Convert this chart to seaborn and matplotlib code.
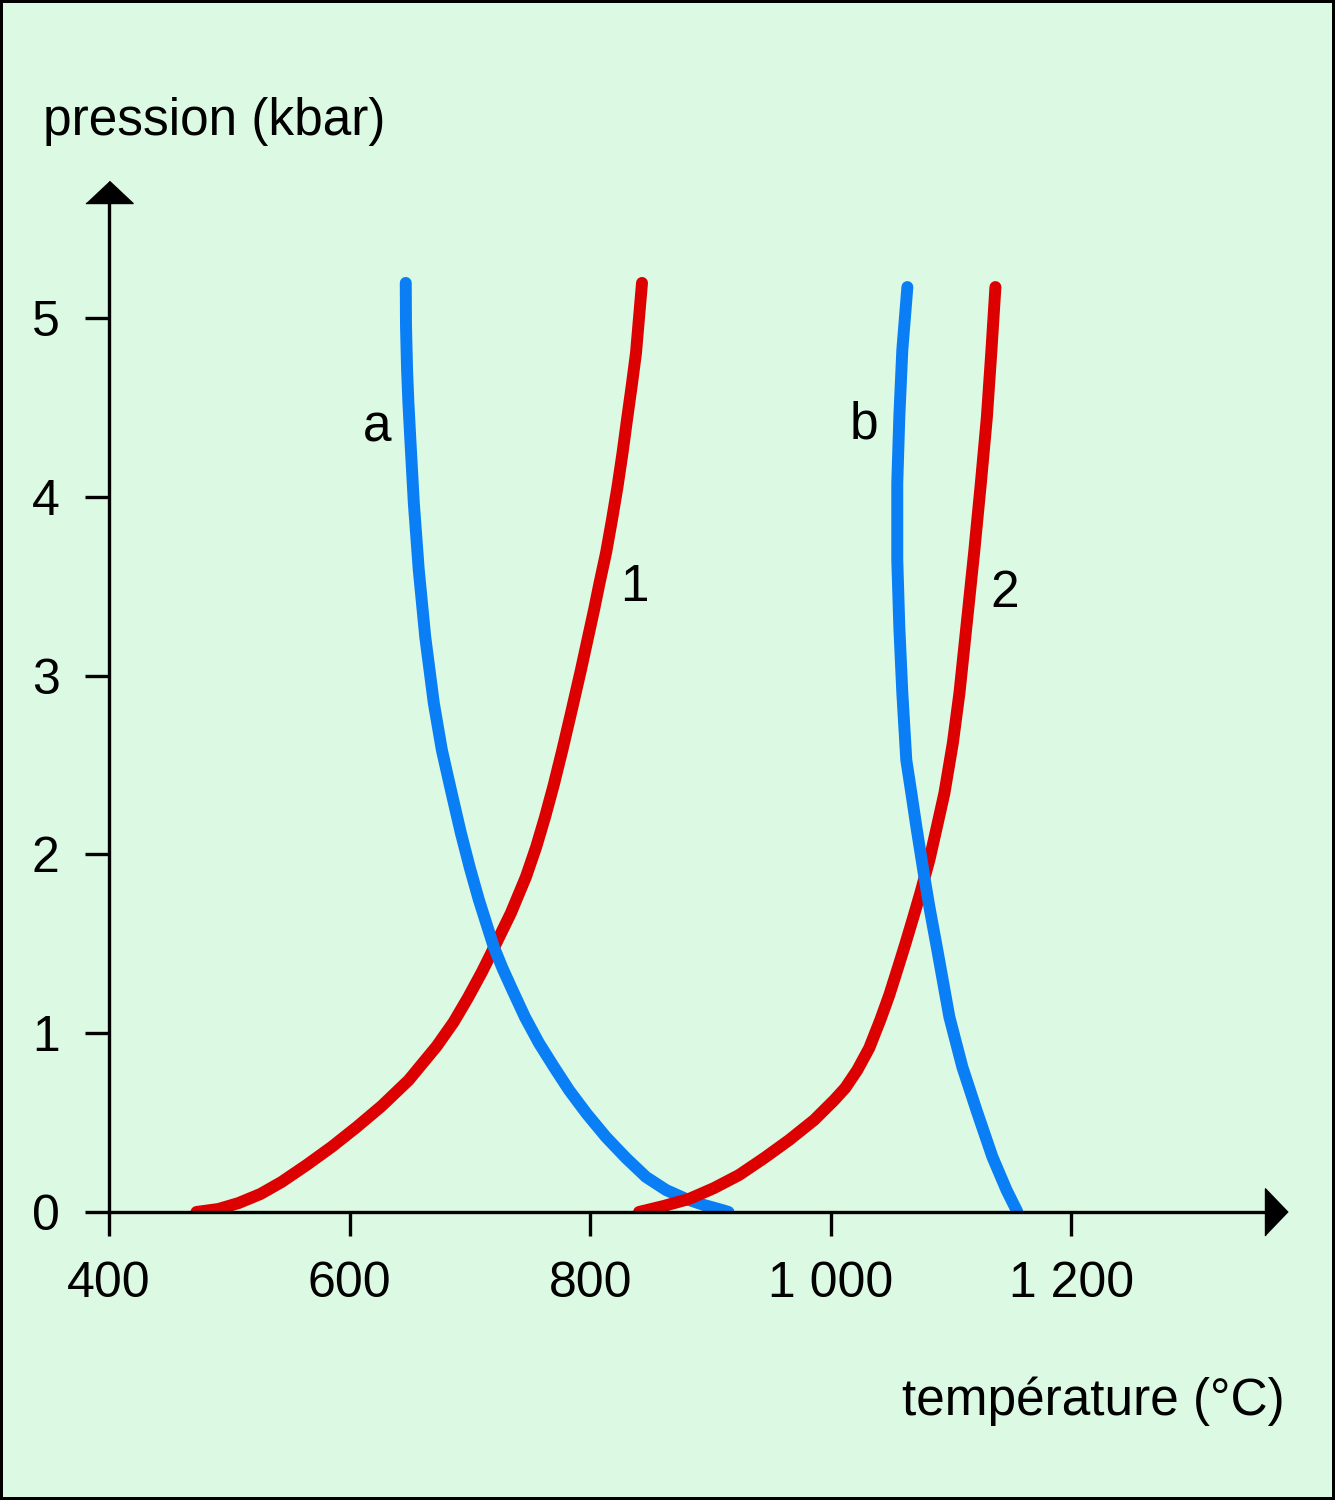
import matplotlib
matplotlib.use("Agg")
import matplotlib.pyplot as plt
import seaborn as sns

# Curve 1 (red) : temperature (°C), pressure (kbar)
t_red1 = [472.7, 491.1, 507.7, 526.0, 543.5, 564.3, 585.1, 605.9, 626.7,
          649.2, 672.5, 686.6, 698.3, 710.0, 719.9, 734.1, 746.6, 755.1,
          762.5, 769.7, 776.9, 784.7, 792.3, 798.3, 803.2, 807.8, 813.2,
          818.1, 822.7, 826.9, 830.6, 834.4, 838.1, 840.6, 843.1]
p_red1 = [0.0, 0.017, 0.050, 0.101, 0.168, 0.263, 0.364, 0.475, 0.593,
          0.738, 0.928, 1.063, 1.197, 1.342, 1.476, 1.672, 1.874, 2.041,
          2.209, 2.388, 2.584, 2.808, 3.031, 3.216, 3.367, 3.518, 3.686,
          3.870, 4.055, 4.245, 4.430, 4.614, 4.804, 5.000, 5.196]

# Curve a (blue)
t_blue_a = [646.7, 646.9, 647.8, 648.9, 650.4, 653.4, 657.5, 662.9, 670.0,
            676.7, 684.6, 692.5, 700.0, 707.5, 719.9, 727.4, 735.3, 745.7,
            757.4, 769.9, 782.4, 797.3, 813.2, 829.8, 846.4, 863.1, 879.7,
            894.7, 909.7, 915.0]
p_blue_a = [5.196, 4.955, 4.709, 4.525, 4.334, 3.965, 3.591, 3.216, 2.847,
            2.584, 2.349, 2.120, 1.924, 1.745, 1.482, 1.359, 1.242, 1.091,
            0.945, 0.811, 0.682, 0.548, 0.419, 0.302, 0.196, 0.123, 0.073,
            0.039, 0.011, 0.0]

# Curve 2 (red)
t_red2 = [840.6, 861.4, 882.2, 903.0, 923.8, 944.7, 965.5, 986.3, 1002.9,
          1012.1, 1022.1, 1032.0, 1041.2, 1048.7, 1055.8, 1062.0, 1068.7,
          1074.5, 1082.0, 1088.2, 1094.5, 1101.5, 1107.0, 1113.6, 1119.4,
          1124.8, 1129.8, 1133.6, 1136.9]
p_red2 = [0.0, 0.034, 0.073, 0.134, 0.207, 0.302, 0.403, 0.515, 0.626,
          0.694, 0.794, 0.917, 1.074, 1.214, 1.365, 1.499, 1.650, 1.784,
          1.969, 2.153, 2.343, 2.623, 2.903, 3.327, 3.702, 4.077, 4.446,
          4.821, 5.173]

# Curve b (blue)
t_blue_b = [1063.7, 1059.5, 1057.0, 1055.3, 1055.3, 1057.0, 1059.5, 1062.8,
            1067.0, 1071.2, 1077.8, 1082.0, 1088.6, 1098.6, 1109.4, 1121.1,
            1134.4, 1146.1, 1155.2]
p_blue_b = [5.173, 4.821, 4.446, 4.077, 3.647, 3.272, 2.903, 2.528, 2.343,
            2.153, 1.874, 1.706, 1.465, 1.091, 0.811, 0.570, 0.308, 0.123,
            0.0]

# curve names and where they are written
curve_names = ["a", "1", "b", "2"]
name_t = [622.6, 836.5, 1027.7, 1145]
name_p = [4.385, 3.49, 4.40, 3.46]

x_ticks = [400, 600, 800, 1000, 1200]
x_ticklabels = ["400", "600", "800", "1 000", "1 200"]
y_ticks = [0, 1, 2, 3, 4, 5]

bg = "#dcf9e3"
red = "#dc0000"
blue = "#0a7ff5"

sns.set_theme(style="ticks")
plt.rcParams["font.family"] = ["Liberation Sans", "DejaVu Sans"]
plt.rcParams["text.color"] = "black"

fig = plt.figure(figsize=(13.35, 15), dpi=100)
fig.patch.set_facecolor(bg)
fig.patch.set_edgecolor("black")
fig.patch.set_linewidth(4)

ax = fig.add_axes([109 / 1335, 288 / 1500, (1265 - 109) / 1335, (1212 - 203) / 1500])
ax.set_facecolor(bg)

lw = 8.6
# drawing order follows the overlaps seen in the figure
sns.lineplot(x=t_red1, y=p_red1, sort=False, estimator=None, color=red,
             linewidth=lw, solid_capstyle="round", ax=ax)
sns.lineplot(x=t_blue_a, y=p_blue_a, sort=False, estimator=None, color=blue,
             linewidth=lw, solid_capstyle="round", ax=ax)
sns.lineplot(x=t_red2, y=p_red2, sort=False, estimator=None, color=red,
             linewidth=lw, solid_capstyle="round", ax=ax)
sns.lineplot(x=t_blue_b, y=p_blue_b, sort=False, estimator=None, color=blue,
             linewidth=lw, solid_capstyle="round", ax=ax)

for name, t, p in zip(curve_names, name_t, name_p):
    ax.text(t, p, name, ha="center", va="center", fontsize=37, color="black")

ax.set_xlim(400, 1361)
ax.set_ylim(0, 5.643)
ax.set_xticks(x_ticks)
ax.set_xticklabels(x_ticklabels)
ax.set_yticks(y_ticks)
ax.set_xlabel("")
ax.set_ylabel("")

for side in ["top", "right"]:
    ax.spines[side].set_visible(False)
for side in ["left", "bottom"]:
    ax.spines[side].set_linewidth(2.4)
    ax.spines[side].set_color("black")
ax.tick_params(direction="out", length=17.5, width=2.4, pad=18,
               labelsize=36, colors="black")

# arrow heads at the ends of the axes
ax.plot([0], [1], transform=ax.transAxes, marker=[(-1, 0), (1, 0), (0, 0.94)],
        markersize=34, color="black", linestyle="none", clip_on=False)
ax.plot([1], [0], transform=ax.transAxes, marker=[(0, -1), (0, 1), (0.96, 0)],
        markersize=34, color="black", linestyle="none", clip_on=False)

fig.text(43 / 1335, 1 - 135 / 1500, "pression (kbar)", ha="left",
         va="baseline", fontsize=37, color="black")
fig.text(1285 / 1335, 1 - 1415 / 1500, "température (°C)", ha="right",
         va="baseline", fontsize=37, color="black")

fig.savefig("out.png", dpi=100, facecolor=bg, edgecolor="black")
